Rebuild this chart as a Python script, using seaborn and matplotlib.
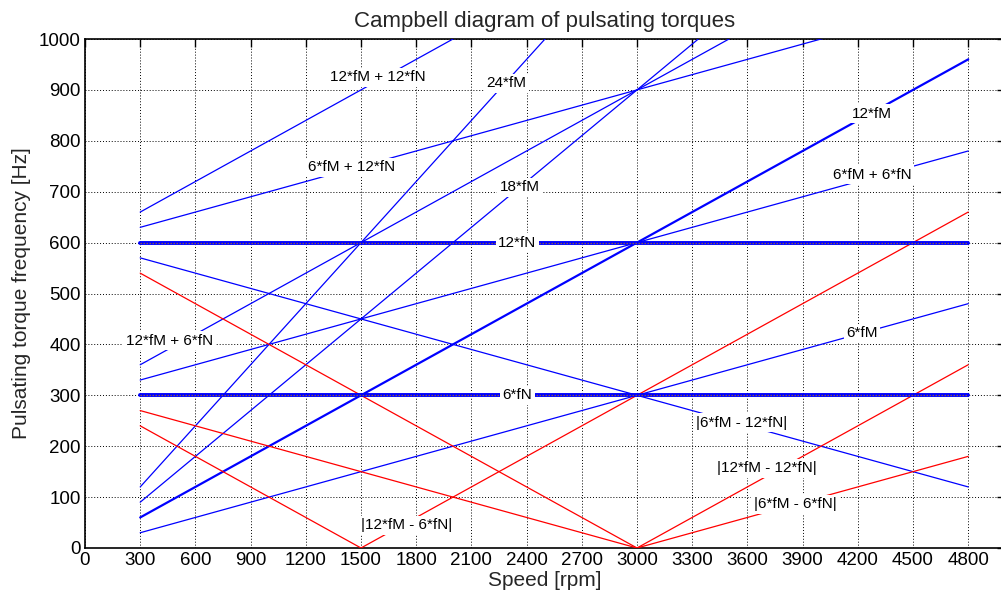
import matplotlib
matplotlib.use("Agg")
import matplotlib.pyplot as plt
import seaborn as sns
import numpy as np

# Speeds (rpm) at which each order line is read
speed = [300, 1500, 3000, 4800]

# Pulsating torque frequencies [Hz] at those speeds
f_6fM = [30, 150, 300, 480]
f_12fM = [60, 300, 600, 960]
f_18fM = [90, 450, 900, 1440]
f_24fM = [120, 600, 1200, 1920]
f_6fN = [300, 300, 300, 300]
f_12fN = [600, 600, 600, 600]
f_6fM_p_6fN = [330, 450, 600, 780]
f_6fM_p_12fN = [630, 750, 900, 1080]
f_12fM_p_6fN = [360, 600, 900, 1260]
f_12fM_p_12fN = [660, 900, 1200, 1560]
f_6fM_m_12fN = [570, 450, 300, 120]
f_12fM_m_12fN = [540, 300, 0, 360]
f_12fM_m_6fN = [240, 0, 300, 660]
f_6fM_m_6fN = [270, 150, 0, 180]

x_ticks = list(range(0, 4801, 300))
y_ticks = list(range(0, 1001, 100))

# label text, speed, frequency
label_text = ["12*fM + 12*fN", "24*fM", "6*fM + 12*fN", "18*fM", "12*fM",
              "6*fM + 6*fN", "12*fN", "12*fM + 6*fN", "6*fM", "6*fN",
              "|6*fM - 12*fN|", "|12*fM - 12*fN|", "|6*fM - 6*fN|", "|12*fM - 6*fN|"]
label_x = [1590, 2290, 1450, 2362, 4278, 4278, 2350, 457, 4224, 2350,
           3571, 3707, 3860, 1750]
label_y = [925, 913, 748, 709, 853, 733, 600, 407, 422, 300,
           246, 157, 86, 45]

sns.set_style("white")
plt.rcParams['font.family'] = ['Liberation Sans', 'DejaVu Sans']

fig = plt.figure(figsize=(10.01, 6.01), dpi=100)
ax = fig.add_axes([85/1001, 1 - 548/601, 920/1001, (548 - 39)/601])

blue = "#0000ff"
red = "#ff0000"

thin_blue = [f_6fM, f_18fM, f_24fM, f_6fM_p_6fN, f_6fM_p_12fN,
             f_12fM_p_6fN, f_12fM_p_12fN, f_6fM_m_12fN]
for s in thin_blue:
    sns.lineplot(x=speed, y=s, ax=ax, color=blue, lw=0.9, zorder=3)
sns.lineplot(x=speed, y=f_12fM, ax=ax, color=blue, lw=1.6, zorder=3)
for s in [f_12fM_m_12fN, f_12fM_m_6fN, f_6fM_m_6fN]:
    sns.lineplot(x=speed, y=s, ax=ax, color=red, lw=0.9, zorder=3)
for s in [f_6fN, f_12fN]:
    sns.lineplot(x=speed, y=s, ax=ax, color=blue, lw=2.8, zorder=3)
    ax.plot(speed, s, color="#8a5a4a", lw=0.9, dashes=(1.2, 1.2), zorder=3.5)

for t, xx, yy in zip(label_text, label_x, label_y):
    ax.text(xx, yy, t, ha="center", va="center", fontsize=11, color="black",
            zorder=6, bbox=dict(facecolor="white", edgecolor="none", pad=1.8))

ax.set_xlim(0, 5000)
ax.set_ylim(0, 1000)
ax.set_xticks(x_ticks)
ax.set_yticks(y_ticks)
ax.grid(True, color="black", linestyle=(0, (1, 2)), lw=0.7, zorder=1)
ax.set_axisbelow(True)
ax.tick_params(direction="in", length=6, width=1, top=True, right=True,
               labelsize=13.5, pad=3, colors="black")
for sp in ax.spines.values():
    sp.set_color("black")
    sp.set_linewidth(1.2)

ax.set_xlabel("Speed [rpm]", fontsize=15, labelpad=1)
ax.set_ylabel("Pulsating torque frequency [Hz]", fontsize=15, labelpad=6)
ax.set_title("Campbell diagram of pulsating torques", fontsize=16, pad=9)

fig.savefig("out.png", dpi=100)
